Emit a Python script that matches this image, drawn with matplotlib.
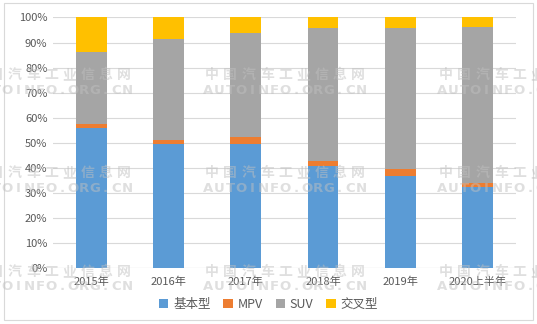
import matplotlib
matplotlib.use('Agg')
import matplotlib.pyplot as plt
from matplotlib.ticker import PercentFormatter
from matplotlib.patches import Rectangle
import numpy as np

plt.rcParams['font.family'] = ['Noto Sans CJK SC', 'DejaVu Sans']

years = ['2015年', '2016年', '2017年', '2018年', '2019年', '2020上半年']
series = ['基本型', 'MPV', 'SUV', '交叉型']
base = [56.0, 49.4, 49.4, 40.9, 36.9, 32.5]
mpv = [1.5, 1.9, 3.1, 1.9, 2.7, 1.4]
suv = [28.6, 40.1, 41.3, 52.9, 56.3, 62.4]
cross = [13.9, 8.6, 6.2, 4.3, 4.1, 3.7]
colors = ['#5B9BD5', '#ED7D31', '#A5A5A5', '#FFC000']

fig = plt.figure(figsize=(5.37, 3.24), dpi=100)
ax = fig.add_axes([0.0987, 0.172, 0.862, 0.774])

x = np.arange(len(years))
bottom = np.zeros(len(years))
for name, vals, c in zip(series, [base, mpv, suv, cross], colors):
    ax.bar(x, vals, 0.4, bottom=bottom, color=c, label=name, zorder=2)
    bottom += np.array(vals)

ax.set_xlim(-0.5, len(years) - 0.5)
ax.set_ylim(0, 100)
ax.set_yticks(np.arange(0, 101, 10))
ax.yaxis.set_major_formatter(PercentFormatter(decimals=0))
ax.set_xticks(x)
ax.set_xticklabels(years)
ax.grid(axis='y', color='#D9D9D9', linewidth=0.8, zorder=0)
for s in ax.spines.values():
    s.set_visible(False)
ax.tick_params(length=0, labelsize=8, colors='#595959', pad=4)
ax.tick_params(axis='x', pad=6)
ax.axhline(0, color='#D9D9D9', linewidth=0.8, zorder=1)

leg = fig.legend(loc='center', bbox_to_anchor=(0.5, 0.06), ncol=4, frameon=False,
                 fontsize=9, handlelength=0.75, handleheight=0.75,
                 handletextpad=0.4, columnspacing=1.0)
for t in leg.get_texts():
    t.set_color('#595959')

# figure border
fig.patches.append(Rectangle((0.0075, 0.012), 0.985, 0.978, transform=fig.transFigure,
                             fill=False, edgecolor='#D9D9D9', linewidth=0.8))

# watermark
wm_cn = '中国汽车工业信息网'
wm_en = 'AUTOINFO.ORG.CN'
def watermark(cx, cy):
    w = 164
    for i, ch in enumerate(wm_cn):
        px = cx - w / 2 + (i + 0.5) * w / len(wm_cn)
        fig.text(px / 537, 1 - cy / 324, ch, ha='center', va='center', fontsize=10,
                 color='#c0c0c0', alpha=0.5, fontweight='bold', zorder=5)
    for i, ch in enumerate(wm_en):
        px = cx - w / 2 + (i + 0.5) * w / len(wm_en)
        fig.text(px / 537, 1 - (cy + 15) / 324, ch, ha='center', va='center', fontsize=9.5,
                 color='#c0c0c0', alpha=0.5, fontweight='bold', family='DejaVu Sans', zorder=5)

for cx in [51, 285, 519]:
    for cy in [75, 173, 272]:
        watermark(cx, cy)

fig.savefig('out.png', dpi=100)
